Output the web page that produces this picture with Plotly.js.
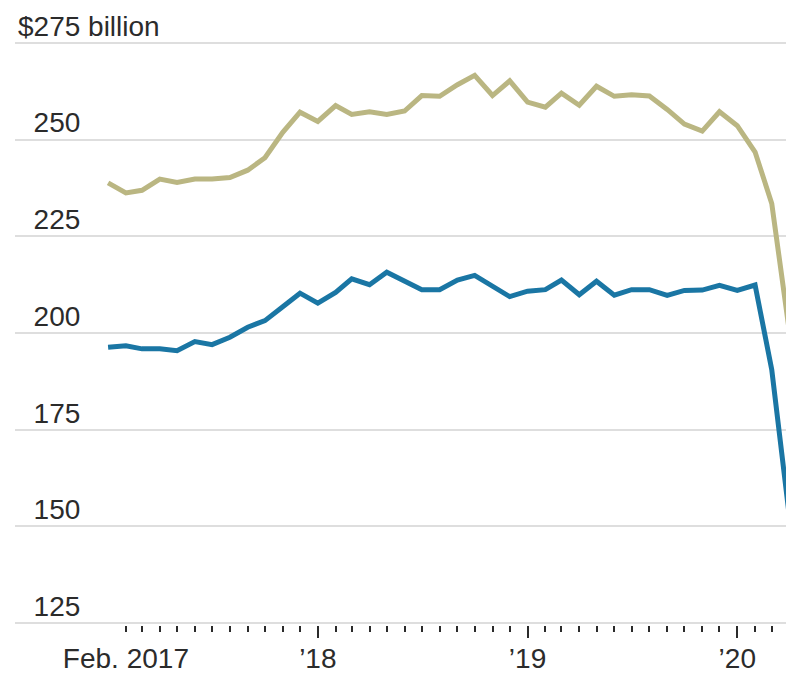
<!DOCTYPE html>
<html>
<head>
<meta charset="utf-8">
<script src="https://cdn.plot.ly/plotly-3.0.1.min.js"></script>
<style>
  html, body { margin: 0; padding: 0; background: #fff; }
  #chart { width: 786px; height: 678px; }
</style>
</head>
<body>
<div id="chart"></div>
<script>
// Monthly values, Jan 2017 - Apr 2020 ($ billion)
const months = [
  "2017-01-01","2017-02-01","2017-03-01","2017-04-01","2017-05-01","2017-06-01",
  "2017-07-01","2017-08-01","2017-09-01","2017-10-01","2017-11-01","2017-12-01",
  "2018-01-01","2018-02-01","2018-03-01","2018-04-01","2018-05-01","2018-06-01",
  "2018-07-01","2018-08-01","2018-09-01","2018-10-01","2018-11-01","2018-12-01",
  "2019-01-01","2019-02-01","2019-03-01","2019-04-01","2019-05-01","2019-06-01",
  "2019-07-01","2019-08-01","2019-09-01","2019-10-01","2019-11-01","2019-12-01",
  "2020-01-01","2020-02-01","2020-03-01","2020-04-01"
];
const imports = [
  238.8, 236.2, 236.9, 239.8, 238.9, 239.8, 239.8, 240.2, 242.1, 245.3, 251.9, 257.1,
  254.7, 258.8, 256.5, 257.2, 256.5, 257.4, 261.4, 261.2, 264.2, 266.6, 261.4, 265.2,
  259.7, 258.4, 262.0, 258.9, 263.8, 261.2, 261.6, 261.3, 257.8, 254.0, 252.2, 257.2,
  253.6, 246.8, 233.5, 200.0
];
const exports_ = [
  196.3, 196.7, 195.9, 195.9, 195.4, 197.8, 197.0, 198.9, 201.5, 203.2, 206.8, 210.3,
  207.7, 210.5, 214.0, 212.5, 215.7, 213.4, 211.2, 211.2, 213.7, 214.9, 212.0, 209.4,
  210.8, 211.2, 213.7, 209.9, 213.4, 209.8, 211.2, 211.2, 209.7, 211.0, 211.1, 212.3,
  211.0, 212.4, 190.5, 152.0
];
const yTickVals = [125, 150, 175, 200, 225, 250, 275];
const yTickText = ["\u2007125", "\u2007150", "\u2007175", "\u2007200", "\u2007225", "\u2007250", "$275 billion"];
const xMajorVals = ["2018-01-01", "2019-01-01", "2020-01-01"];
const xMajorText = ["\u201918", "\u201919", "\u201920"];
const xStartVals = ["2017-02-01"];
const xStartText = ["Feb. 2017"];

const xRange = ["2016-07-23", "2020-03-25 19:00"];
const minorVals = months.slice(1, months.length - 1);

const FONT = '"Liberation Sans", Arial, sans-serif';
const TXT = '#2b2b2b';

const PLOT_W = 786 - 15;

const traces = [
  {
    x: months, y: imports, type: 'scatter', mode: 'lines', xaxis: 'x2', yaxis: 'y',
    line: { color: '#bab682', width: 5 }, hoverinfo: 'skip'
  },
  {
    x: months, y: exports_, type: 'scatter', mode: 'lines', xaxis: 'x', yaxis: 'y',
    line: { color: '#1a76a4', width: 5 }, hoverinfo: 'skip'
  }
];

const layout = {
  width: 786, height: 678,
  margin: { l: 15, r: 0, t: 41, b: 53, pad: 0 },
  paper_bgcolor: '#ffffff', plot_bgcolor: '#ffffff',
  showlegend: false, hovermode: false,
  font: { family: FONT, color: TXT, size: 28 },
  xaxis: {
    type: 'date', range: xRange, fixedrange: true,
    showgrid: false, zeroline: false, showline: false,
    tickmode: 'array', tickvals: xMajorVals, ticktext: xMajorText,
    ticks: 'outside', ticklen: 12, tickwidth: 2, tickcolor: TXT,
    ticklabelstandoff: -4,
    tickfont: { family: FONT, size: 28, color: TXT },
    minor: {
      tickmode: 'array', tickvals: minorVals,
      ticks: 'outside', ticklen: 6, tickwidth: 2, tickcolor: TXT, showgrid: false
    }
  },
  xaxis2: {
    type: 'date', range: xRange, fixedrange: true, overlaying: 'x', anchor: 'y', side: 'bottom',
    showgrid: false, zeroline: false, showline: false,
    tickmode: 'array', tickvals: xStartVals, ticktext: xStartText,
    ticks: 'outside', ticklen: 6, tickwidth: 2, tickcolor: TXT,
    ticklabelstandoff: 2,
    tickfont: { family: FONT, size: 28, color: TXT }
  },
  yaxis: {
    range: [124.5, 275.5], fixedrange: true, side: 'right',
    tickmode: 'array', tickvals: yTickVals, ticktext: yTickText,
    ticks: '', showline: false, zeroline: false,
    showgrid: true, gridcolor: '#dedede', gridwidth: 2,
    ticklabelposition: 'outside', ticklabelshift: -17, ticklabelstandoff: -(PLOT_W - 2),
    tickfont: { family: FONT, size: 28, color: TXT }
  }
};

Plotly.newPlot('chart', traces, layout, { staticPlot: true, displayModeBar: false });
</script>
</body>
</html>
